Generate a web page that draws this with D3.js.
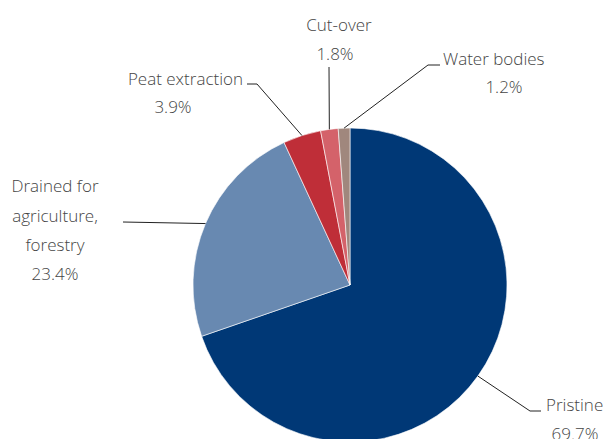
<!DOCTYPE html>
<html>
<head>
<meta charset="utf-8">
<script src="https://cdn.jsdelivr.net/npm/d3@7"></script>
<style>
  body { margin: 0; background: #fff; }
  svg text { font-family: "Open Sans", "Noto Sans", sans-serif; font-size: 17px; font-weight: 300; fill: #454545; }
</style>
</head>
<body>
<svg class="chart" width="607" height="439"></svg>
<script>
// data
var categories = ["Pristine", "Drained for agriculture, forestry", "Peat extraction", "Cut-over", "Water bodies"];
var shares = [69.7, 23.4, 3.9, 1.8, 1.2];
var valueLabels = ["69.7%", "23.4%", "3.9%", "1.8%", "1.2%"];
var colors = ["#003876", "#6889b1", "#bf2e38", "#d4626a", "#a0877d"];

// label layout: text lines, where the leader line ends, optional elbow
var labelLayout = [
    { lines: ["Pristine"], x: 546, y: 411, anchor: "start", value: { x: 575, y: 440 }, elbow: [530, 411], end: [541, 411] },
    { lines: ["Drained for", "agriculture,", "forestry"], x: 55, y: 192, anchor: "middle", value: { x: 55, y: 280 }, elbow: null, end: [123, 222] },
    { lines: ["Peat extraction"], x: 243, y: 85, anchor: "end", value: { x: 173, y: 113 }, elbow: [257, 84], end: [247, 84] },
    { lines: ["Cut-over"], x: 339, y: 31, anchor: "middle", value: { x: 335, y: 60 }, elbow: null, end: [329, 67] },
    { lines: ["Water bodies"], x: 443, y: 65, anchor: "start", value: { x: 504, y: 93 }, elbow: [428, 65], end: [440, 65] }
];

var svg = d3.select(".chart"),
    cx = 350,
    cy = 285,
    radius = 157;

var data = categories.map(function(c, i) {
    return { name: c, value: shares[i], label: valueLabels[i], color: colors[i], layout: labelLayout[i] };
});

var pie = d3.pie()
    .sort(null)
    .value(function(d) { return d.value; });

var arc = d3.arc().innerRadius(0).outerRadius(radius);

var g = svg.append("g")
    .attr("transform", "translate(" + cx + "," + cy + ")");

var arcs = pie(data);

g.selectAll(".slice")
    .data(arcs)
    .enter().append("path")
    .attr("class", "slice")
    .attr("d", arc)
    .attr("fill", function(d) { return d.data.color; })
    .attr("stroke", "#fff")
    .attr("stroke-width", 0.6);

// leader lines from the slice edge
svg.selectAll(".leader")
    .data(arcs)
    .enter().append("polyline")
    .attr("class", "leader")
    .attr("fill", "none")
    .attr("stroke", "#222")
    .attr("stroke-width", 1)
    .attr("points", function(d) {
        var a = (d.startAngle + d.endAngle) / 2;
        var p = [cx + radius * Math.sin(a), cy - radius * Math.cos(a)];
        var pts = [p];
        if (d.data.layout.elbow) pts.push(d.data.layout.elbow);
        pts.push(d.data.layout.end);
        return pts.map(function(q) { return q.join(","); }).join(" ");
    });

// labels
data.forEach(function(d) {
    var L = d.layout;
    var t = svg.append("text")
        .attr("text-anchor", L.anchor)
        .attr("x", L.x)
        .attr("y", L.y);
    L.lines.forEach(function(line, i) {
        t.append("tspan")
            .attr("x", L.x)
            .attr("y", L.y + i * 29.5)
            .text(line);
    });
    svg.append("text")
        .attr("text-anchor", "middle")
        .attr("x", L.value.x)
        .attr("y", L.value.y)
        .text(d.label);
});
</script>
</body>
</html>
